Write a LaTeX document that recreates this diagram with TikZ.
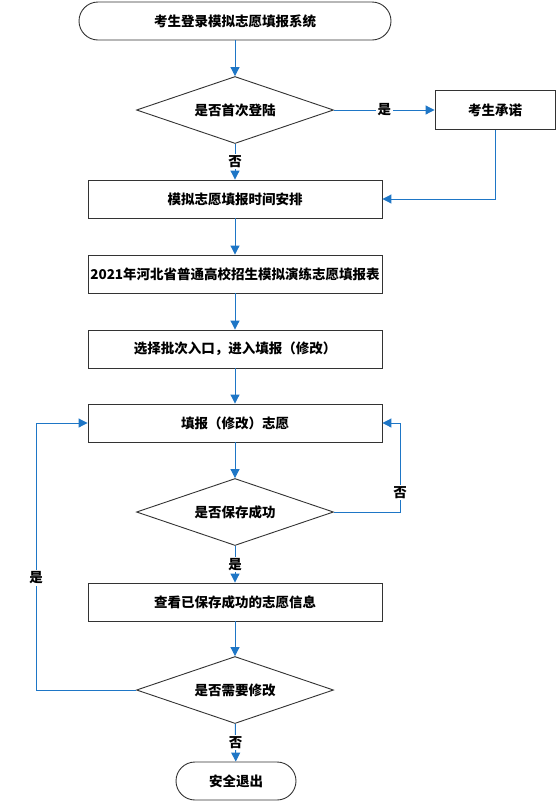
\documentclass[tikz,border=0pt]{standalone}
\usepackage{fontspec}
\newfontfamily\cjk{Noto Sans CJK SC}
\usetikzlibrary{shapes.geometric,arrows.meta}
\definecolor{lineblue}{RGB}{30,118,198}

\begin{document}
\begin{tikzpicture}[x=1pt,y=-1pt,
	font=\cjk\bfseries\fontsize{13.5}{15}\selectfont,
	proc/.style={draw=black!80, line width=0.9pt, minimum width=294pt, minimum height=38pt, inner sep=0pt},
	term/.style={proc, rounded corners=19pt},
	ask/.style={diamond, aspect=3, draw=black!80, line width=0.9pt, minimum width=197pt, minimum height=67pt, inner sep=0pt},
	flow/.style={draw=lineblue, line width=1pt, -{Triangle[length=9pt,width=9pt]}},
	tag/.style={fill=white, inner sep=1.5pt}]
	\useasboundingbox (0,0) rectangle (558,801);

	\node[term, minimum width=312pt] (start) at (235,21) {考生登录模拟志愿填报系统};
	\node[ask] (first) at (235,110) {是否首次登陆};
	\node[proc, minimum width=120pt, minimum height=39pt] (promise) at (495,110) {考生承诺};
	\node[proc] (sched) at (235,199) {模拟志愿填报时间安排};
	\node[proc] (form) at (235,274) {2021年河北省普通高校招生模拟演练志愿填报表};
	\node[proc] (batch) at (235,349) {选择批次入口，进入填报（修改）};
	\node[proc] (fill) at (235,423) {填报（修改）志愿};
	\node[ask] (saved) at (235,512) {是否保存成功};
	\node[proc] (view) at (235,602) {查看已保存成功的志愿信息};
	\node[ask] (modify) at (235,690) {是否需要修改};
	\node[term, minimum width=120pt] (quit) at (236,781) {安全退出};

	\coordinate (rloop) at (400,423);
	\coordinate (lloop) at (36,423);

	\draw[flow] (start) -- (first);
	\draw[flow] (first) -- node[tag] {是} (promise);
	\draw[flow] (first) -- node[tag] {否} (sched);
	\draw[flow] (promise) |- (sched);
	\draw[flow] (sched) -- (form);
	\draw[flow] (form) -- (batch);
	\draw[flow] (batch) -- (fill);
	\draw[flow] (fill) -- (saved);
	\draw[flow] (saved.east) -| node[tag, pos=0.61] {否} (rloop) -- (fill);
	\draw[flow] (saved) -- node[tag] {是} (view);
	\draw[flow] (view) -- (modify);
	\draw[flow] (modify.west) -| node[tag, pos=0.71] {是} (lloop) -- (fill);
	\draw[flow] (modify) -- node[tag] {否} (quit);
\end{tikzpicture}
\end{document}
